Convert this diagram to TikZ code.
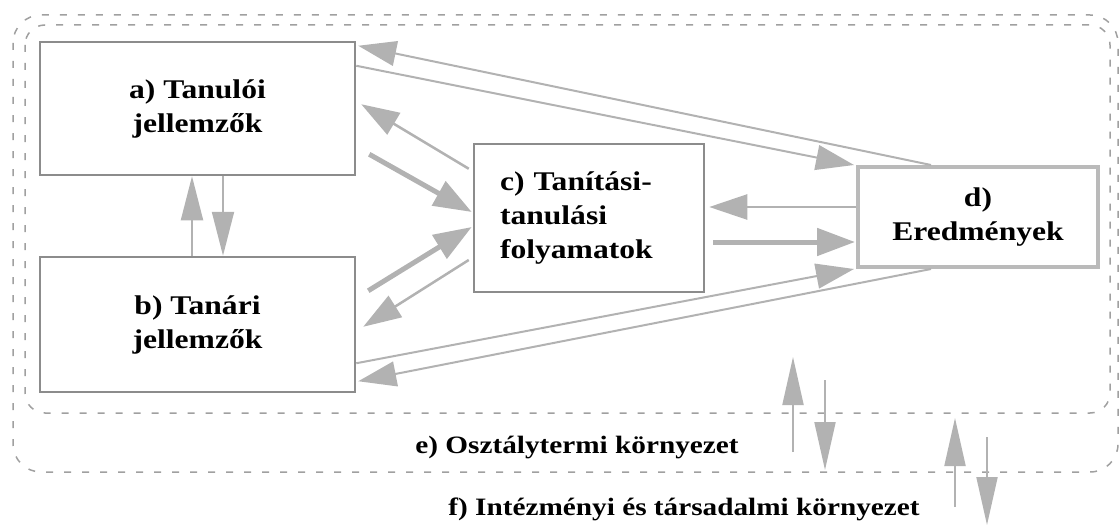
\documentclass[tikz,border=0pt]{standalone}
\usepackage{fontspec}
\setmainfont{Liberation Serif}[FakeStretch=1.17]
\usepackage{tikz}
\usetikzlibrary{arrows.meta, calc}
\definecolor{nyilszurke}{RGB}{178,178,178}
\definecolor{keretszurke}{RGB}{140,140,140}
\definecolor{vonalszurke}{RGB}{160,160,160}

\begin{document}
\begin{tikzpicture}[x = 1pt, y = -1pt,
    doboz/.style = {draw = keretszurke, line width = 2.5pt, fill = white, align = center,
        font = \fontsize{27}{34}\selectfont\bfseries},
    cimke/.style = {anchor = base, font = \fontsize{25}{30}\selectfont\bfseries},
    vekony/.style = {draw = nyilszurke, line width = 2.5pt, -{Triangle[length = 38pt, width = 25pt]}},
    vastag/.style = {draw = nyilszurke, line width = 5pt, -{Triangle[length = 38pt, width = 27pt]}},
    fuggoleges/.style = {draw = nyilszurke, line width = 2pt, -{Triangle[length = 44pt, width = 22pt]}},
    kornyezet/.style = {draw = vonalszurke, line width = 1.5pt, dash pattern = on 7pt off 11pt}]
    % Keret
    \useasboundingbox (0,0) rectangle (1120,527);
    \draw[kornyezet, rounded corners = 28pt] (13,15) rectangle (1118,472);
    \draw[kornyezet, rounded corners = 20pt] (25,25) rectangle (1110,413);
    % Dobozok
    \node[doboz, minimum width = 315pt, minimum height = 133pt] (a) at (197.5,108.5) {a) Tanulói\\jellemzők};
    \node[doboz, minimum width = 315pt, minimum height = 135pt] (b) at (197.5,324.5) {b) Tanári\\jellemzők};
    \node[doboz, minimum width = 230pt, minimum height = 148pt, text width = 178pt, inner xsep = 26pt,
        align = left] (c) at (589,218) {c) Tanítási-\\tanulási\\folyamatok};
    \node[doboz, draw = nyilszurke!90, line width = 4pt, minimum width = 240pt, minimum height = 100pt]
        (d) at (978,217) {d)\\Eredmények};
    % Feliratok
    \node[cimke] (e) at (577,453) {e) Osztálytermi környezet};
    \node[cimke] (f) at (684,515) {f) Intézményi és társadalmi környezet};
    % a - d, b - d
    \draw[vekony, line width = 2pt] ($(d.north west)+(75,0)$) -- ($(a.north east)+(2,5)$);
    \draw[vekony, line width = 2pt] ($(a.north east)+(0,25)$) -- ($(d.north west)+(-2,0)$);
    \draw[vekony, line width = 2pt] ($(b.south east)+(0,-30)$) -- ($(d.south west)+(-2,0)$);
    \draw[vekony, line width = 2pt] ($(d.south west)+(75,0)$) -- ($(b.south east)+(2,-12)$);
    % a - c, b - c
    \draw[vekony] ($(c.north west)+(-4,26)$) -- ($(a.south east)+(5,-72)$);
    \draw[vastag] ($(a.south east)+(13,-22)$) -- ($(c.west)+(-1,-6)$);
    \draw[vastag] ($(b.north east)+(12,35)$) -- ($(c.west)+(-1,9)$);
    \draw[vekony] ($(c.west)+(-4,42)$) -- ($(b.north east)+(7,71)$);
    % c - d
    \draw[vekony] ($(d.west)+(0,-10)$) -- ($(c.east)+(4,-11)$);
    \draw[vastag] ($(c.east)+(8,24)$) -- ($(d.west)+(-1,25)$);
    % a - b
    \draw[fuggoleges] ($(b.north)+(-5.5,0)$) -- ($(a.south)+(-5.5,0)$);
    \draw[fuggoleges] ($(a.south)+(25.5,0)$) -- ($(b.north)+(25.5,0)$);
    % Kornyezet nyilai
    \foreach \x/\ya/\yb/\n in {793/452/357/1, 825/380/470/2, 955/507/418/3, 987/437/525/4}{
        \coordinate (k\n a) at (\x,\ya);
        \coordinate (k\n b) at (\x,\yb);
        \draw[fuggoleges, -{Triangle[length = 48pt, width = 21pt]}] (k\n a) -- (k\n b);
    }
\end{tikzpicture}
\end{document}
